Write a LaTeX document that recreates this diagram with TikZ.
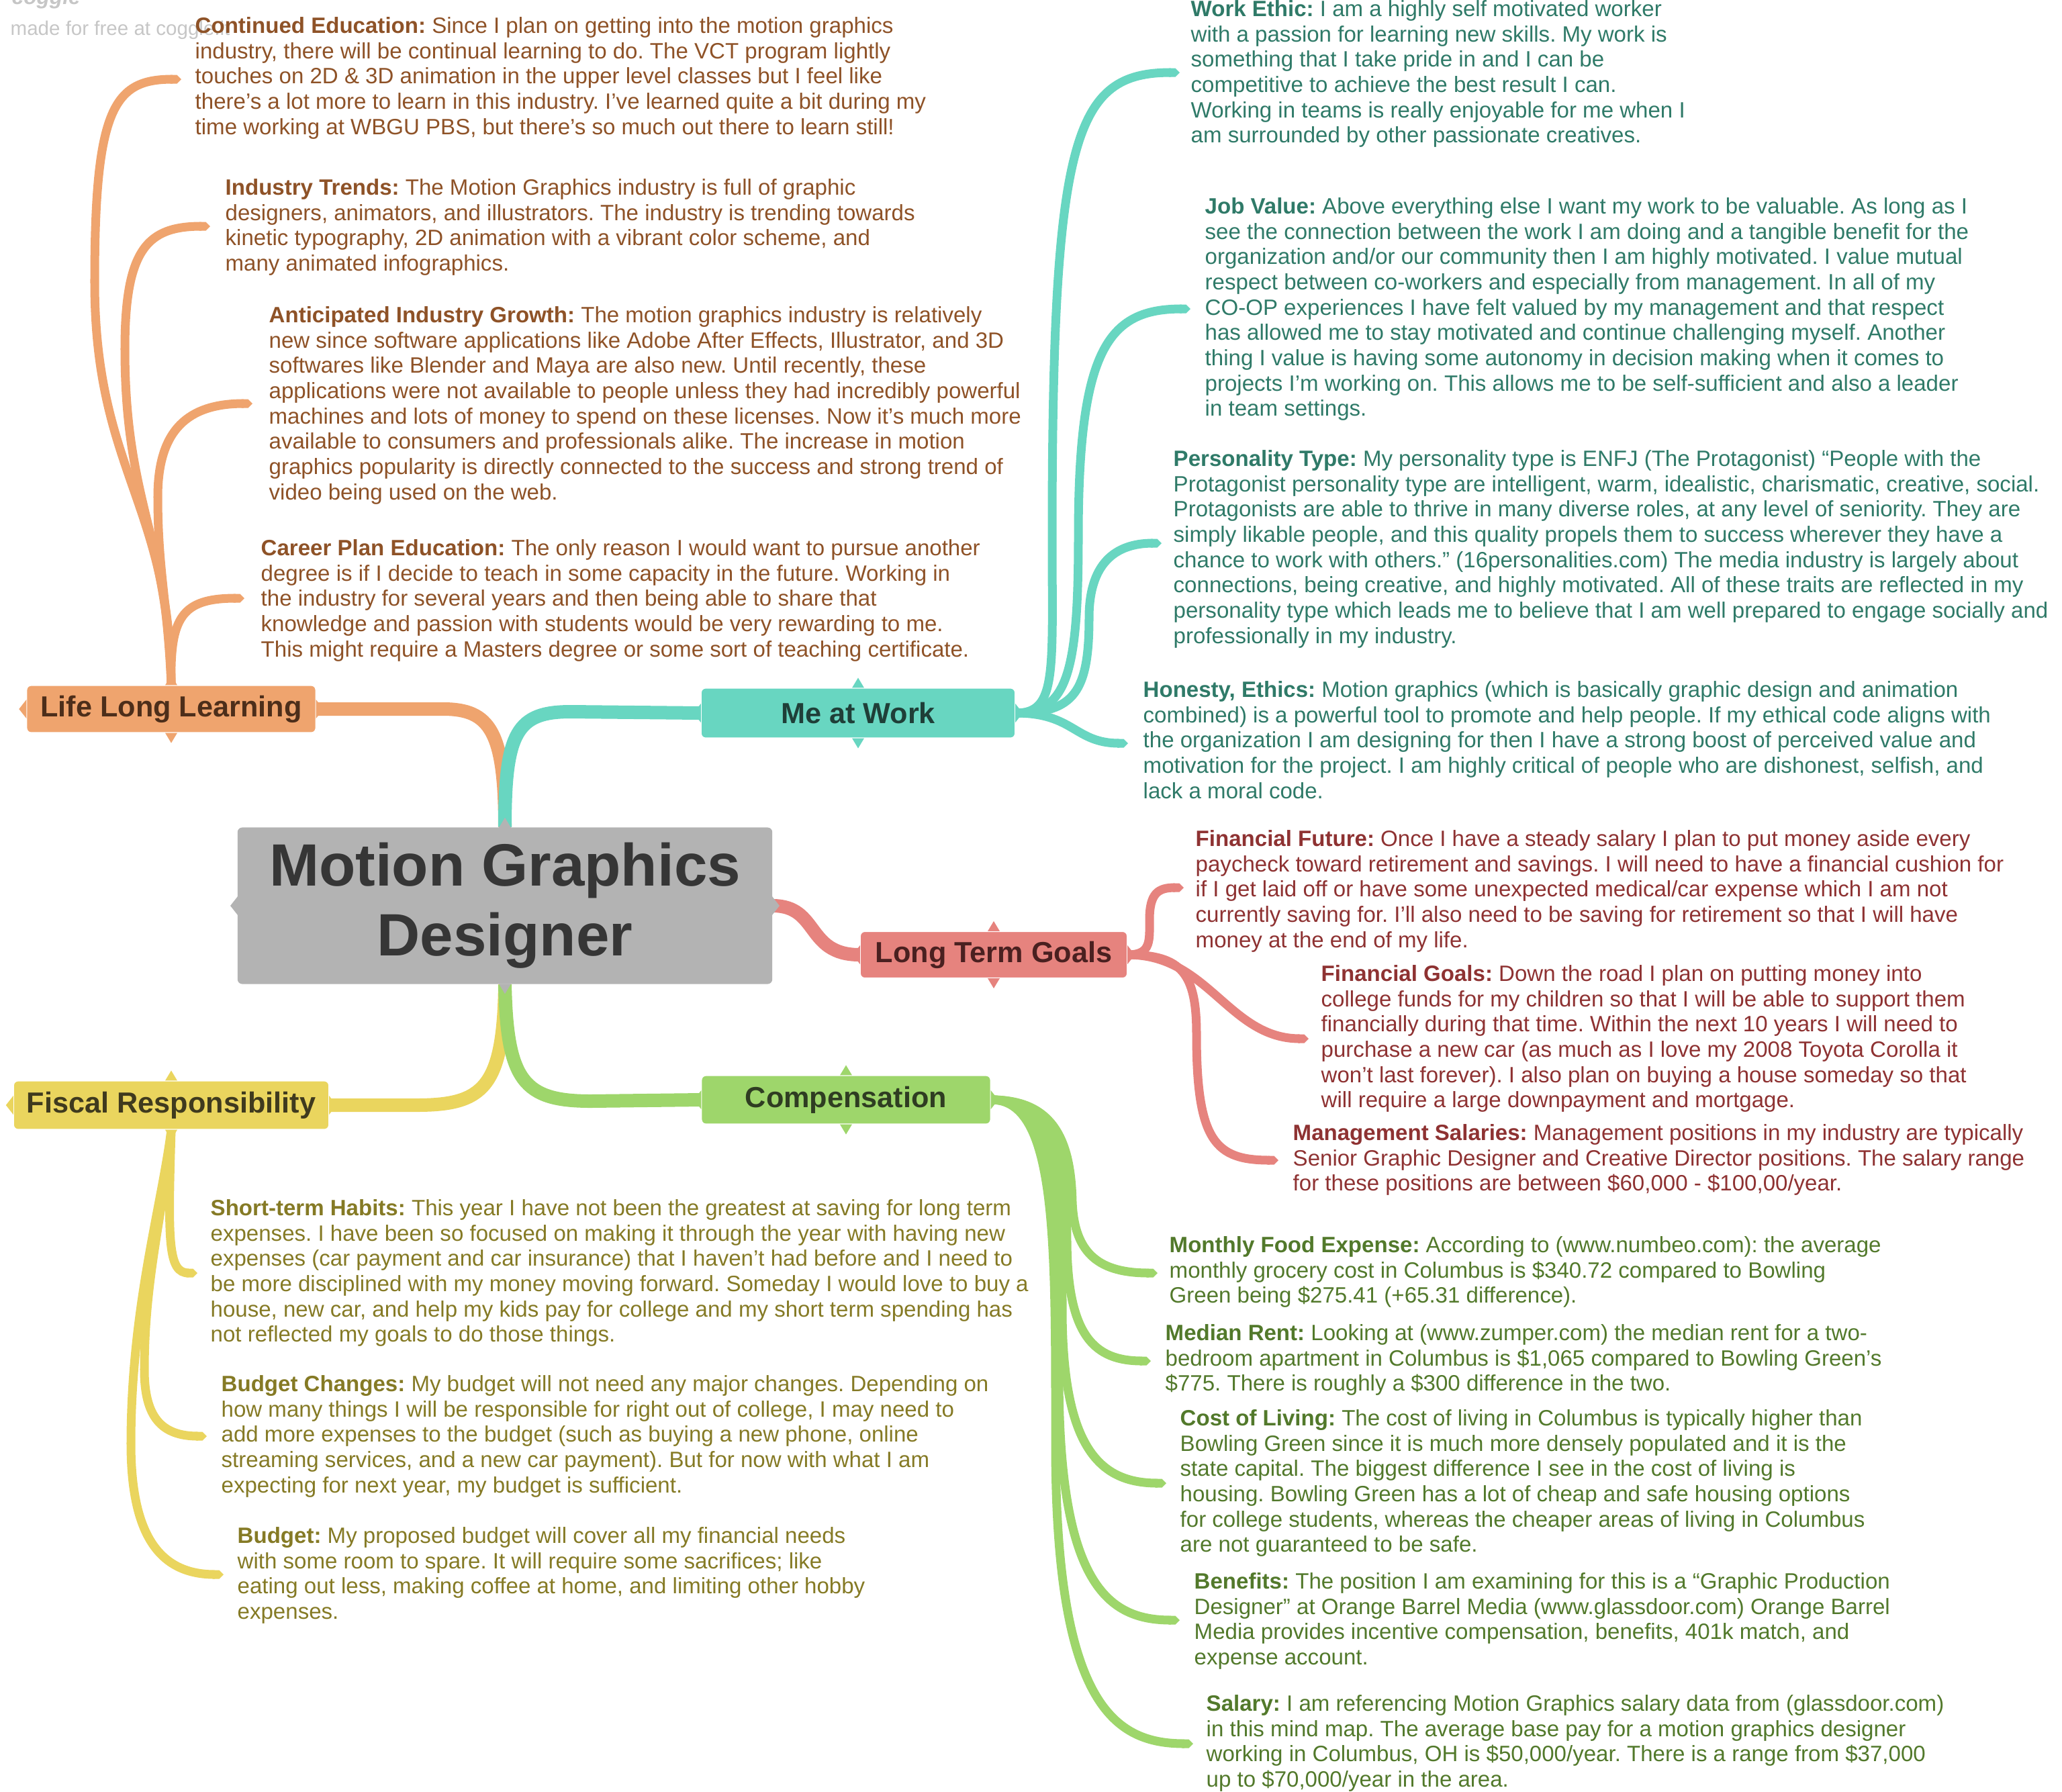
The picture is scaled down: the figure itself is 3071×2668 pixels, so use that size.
\documentclass[tikz,border=0pt]{standalone}
\usepackage{fontspec}
\setmainfont{Liberation Sans}
\usetikzlibrary{arrows.meta, positioning, calc}
\frenchspacing

\definecolor{hubfill}{HTML}{B3B3B3}
\definecolor{hubtext}{HTML}{363636}
\definecolor{learnfill}{HTML}{EFA46E}
\definecolor{learntext}{HTML}{8E5227}
\definecolor{learnlabel}{HTML}{4D2E1A}
\definecolor{workfill}{HTML}{68D6C1}
\definecolor{worktext}{HTML}{2F7A68}
\definecolor{worklabel}{HTML}{1F3F38}
\definecolor{goalfill}{HTML}{E6837E}
\definecolor{goaltext}{HTML}{8E3232}
\definecolor{goallabel}{HTML}{4A2020}
\definecolor{compfill}{HTML}{9ED66B}
\definecolor{comptext}{HTML}{52792B}
\definecolor{complabel}{HTML}{2F3D22}
\definecolor{fiscalfill}{HTML}{EAD55E}
\definecolor{fiscaltext}{HTML}{857A25}
\definecolor{fiscallabel}{HTML}{3F3A1E}

\pgfdeclarelayer{bg}
\pgfsetlayers{bg,main}

\tikzset{
  hub/.style={
    rectangle,
    rounded corners=2pt,
    fill=hubfill,
    text=hubtext,
    minimum width=7.96cm,
    minimum height=2.33cm,
    align=center,
    font=\fontsize{25.3}{29.5}\selectfont\bfseries,
  },
  branch/.style={
    rectangle,
    rounded corners=2pt,
    draw=white,
    line width=0.6pt,
    inner sep=0pt,
    font=\fontsize{12.3}{14}\selectfont\bfseries,
  },
  note/.style={
    anchor=north west,
    align=left,
    inner sep=0pt,
    font=\fontsize{9.4}{10.7}\selectfont,
  },
  trunk/.style={
    line width=0.2cm
  },
  twig/.style={
    line width=0.13cm,
    -{Triangle Cap[]}
  }
}

% small triangles on the four sides of a box
\newcommand{\ears}[2]{%
  \fill[#2] ($(#1.north)+(-9,1)$) -- ($(#1.north)+(0,-14)$) -- ($(#1.north)+(9,1)$) -- cycle;
  \fill[#2] ($(#1.south)+(-9,-1)$) -- ($(#1.south)+(0,14)$) -- ($(#1.south)+(9,-1)$) -- cycle;
  \fill[#2] ($(#1.west)+(1,-14)$) -- ($(#1.west)+(-10,0)$) -- ($(#1.west)+(1,14)$) -- cycle;
  \fill[#2] ($(#1.east)+(-1,-14)$) -- ($(#1.east)+(10,0)$) -- ($(#1.east)+(-1,14)$) -- cycle;
}

\begin{document}
\begin{tikzpicture}[x=0.01cm, y=-0.01cm]

\useasboundingbox (0,0) rectangle (3071,2668);

% --- Watermark ---
\node[anchor=base west, inner sep=0pt, text=gray!45, font=\fontsize{9}{10}\selectfont\bfseries\itshape] (logo) at (17,6) {coggle};
\node[anchor=west, inner sep=0pt, text=gray!45, font=\fontsize{8.4}{10}\selectfont] (madefor) at (15,45) {made for free at coggle.it};

% --- Centre ---
\node[hub] (hub) at (752,1349) {Motion Graphics\\Designer};

% --- Branches ---
\node[branch, fill=learnfill, text=learnlabel, minimum width=4.31cm, minimum height=0.71cm] (lll) at (255,1056) {Life Long Learning};
\node[branch, fill=workfill, text=worklabel, minimum width=4.68cm, minimum height=0.75cm] (work) at (1278,1062) {Me at Work};
\node[branch, fill=goalfill, text=goallabel, minimum width=3.98cm, minimum height=0.70cm] (goals) at (1480,1422) {Long Term Goals};
\node[branch, fill=compfill, text=complabel, minimum width=4.31cm, minimum height=0.73cm] (comp) at (1260,1638) {Compensation};
\node[branch, fill=fiscalfill, text=fiscallabel, minimum width=4.70cm, minimum height=0.73cm] (fiscal) at (255,1646) {Fiscal Responsibility};

\ears{hub}{hubfill}
\ears{lll}{learnfill}
\ears{work}{workfill}
\ears{goals}{goalfill}
\ears{comp}{compfill}
\ears{fiscal}{fiscalfill}

% --- Life Long Learning notes ---
\node[note, text=learntext] (ce) at (290,25) {\textbf{Continued Education:} Since I plan on getting into the motion graphics\\
industry, there will be continual learning to do. The VCT program lightly\\
touches on 2D \& 3D animation in the upper level classes but I feel like\\
there’s a lot more to learn in this industry. I've learned quite a bit during my\\
time working at WBGU PBS, but there's so much out there to learn still!};
\node[note, text=learntext] (trends) at (335,266) {\textbf{Industry Trends:} The Motion Graphics industry is full of graphic\\
designers, animators, and illustrators. The industry is trending towards\\
kinetic typography, 2D animation with a vibrant color scheme, and\\
many animated infographics.};
\node[note, text=learntext] (growth) at (400,456) {\textbf{Anticipated Industry Growth:} The motion graphics industry is relatively\\
new since software applications like Adobe After Effects, Illustrator, and 3D\\
softwares like Blender and Maya are also new. Until recently, these\\
applications were not available to people unless they had incredibly powerful\\
machines and lots of money to spend on these licenses. Now it’s much more\\
available to consumers and professionals alike. The increase in motion\\
graphics popularity is directly connected to the success and strong trend of\\
video being used on the web.};
\node[note, text=learntext] (career) at (388,803) {\textbf{Career Plan Education:} The only reason I would want to pursue another\\
degree is if I decide to teach in some capacity in the future. Working in\\
the industry for several years and then being able to share that\\
knowledge and passion with students would be very rewarding to me.\\
This might require a Masters degree or some sort of teaching certificate.};

% --- Me at Work notes ---
\node[note, text=worktext] (ethic) at (1773,0) {\textbf{Work Ethic:} I am a highly self motivated worker\\
with a passion for learning new skills. My work is\\
something that I take pride in and I can be\\
competitive to achieve the best result I can.\\
Working in teams is really enjoyable for me when I\\
am surrounded by other passionate creatives.};
\node[note, text=worktext] (value) at (1794,294) {\textbf{Job Value:} Above everything else I want my work to be valuable. As long as I\\
see the connection between the work I am doing and a tangible benefit for the\\
organization and/or our community then I am highly motivated. I value mutual\\
respect between co-workers and especially from management. In all of my\\
CO-OP experiences I have felt valued by my management and that respect\\
has allowed me to stay motivated and continue challenging myself. Another\\
thing I value is having some autonomy in decision making when it comes to\\
projects I’m working on. This allows me to be self-sufficient and also a leader\\
in team settings.};
\node[note, text=worktext] (ptype) at (1747,670) {\textbf{Personality Type:} My personality type is ENFJ (The Protagonist) “People with the\\
Protagonist personality type are intelligent, warm, idealistic, charismatic, creative, social.\\
Protagonists are able to thrive in many diverse roles, at any level of seniority. They are\\
simply likable people, and this quality propels them to success wherever they have a\\
chance to work with others.” (16personalities.com) The media industry is largely about\\
connections, being creative, and highly motivated. All of these traits are reflected in my\\
personality type which leads me to believe that I am well prepared to engage socially and\\
professionally in my industry.};
\node[note, text=worktext] (honesty) at (1702,1014) {\textbf{Honesty, Ethics:} Motion graphics (which is basically graphic design and animation\\
combined) is a powerful tool to promote and help people. If my ethical code aligns with\\
the organization I am designing for then I have a strong boost of perceived value and\\
motivation for the project. I am highly critical of people who are dishonest, selfish, and\\
lack a moral code.};

% --- Long Term Goals notes ---
\node[note, text=goaltext] (future) at (1780,1236) {\textbf{Financial Future:} Once I have a steady salary I plan to put money aside every\\
paycheck toward retirement and savings. I will need to have a financial cushion for\\
if I get laid off or have some unexpected medical/car expense which I am not\\
currently saving for. I’ll also need to be saving for retirement so that I will have\\
money at the end of my life.};
\node[note, text=goaltext] (fgoals) at (1967,1437) {\textbf{Financial Goals:} Down the road I plan on putting money into\\
college funds for my children so that I will be able to support them\\
financially during that time. Within the next 10 years I will need to\\
purchase a new car (as much as I love my 2008 Toyota Corolla it\\
won’t last forever). I also plan on buying a house someday so that\\
will require a large downpayment and mortgage.};
\node[note, text=goaltext] (mgmt) at (1925,1674) {\textbf{Management Salaries:} Management positions in my industry are typically\\
Senior Graphic Designer and Creative Director positions. The salary range\\
for these positions are between \$60,000 - \$100,00/year.};

% --- Compensation notes ---
\node[note, text=comptext] (food) at (1741,1841) {\textbf{Monthly Food Expense:} According to (www.numbeo.com): the average\\
monthly grocery cost in Columbus is \$340.72 compared to Bowling\\
Green being \$275.41 (+65.31 difference).};
\node[note, text=comptext] (rent) at (1735,1972) {\textbf{Median Rent:} Looking at (www.zumper.com) the median rent for a two-\\
bedroom apartment in Columbus is \$1,065 compared to Bowling Green’s\\
\$775. There is roughly a \$300 difference in the two.};
\node[note, text=comptext] (living) at (1757,2099) {\textbf{Cost of Living:} The cost of living in Columbus is typically higher than\\
Bowling Green since it is much more densely populated and it is the\\
state capital. The biggest difference I see in the cost of living is\\
housing. Bowling Green has a lot of cheap and safe housing options\\
for college students, whereas the cheaper areas of living in Columbus\\
are not guaranteed to be safe.};
\node[note, text=comptext] (benefits) at (1778,2342) {\textbf{Benefits:} The position I am examining for this is a “Graphic Production\\
Designer” at Orange Barrel Media (www.glassdoor.com) Orange Barrel\\
Media provides incentive compensation, benefits, 401k match, and\\
expense account.};
\node[note, text=comptext] (salary) at (1796,2524) {\textbf{Salary:} I am referencing Motion Graphics salary data from (glassdoor.com)\\
in this mind map. The average base pay for a motion graphics designer\\
working in Columbus, OH is \$50,000/year. There is a range from \$37,000\\
up to \$70,000/year in the area.};

% --- Fiscal Responsibility notes ---
\node[note, text=fiscaltext] (habits) at (313,1786) {\textbf{Short-term Habits:} This year I have not been the greatest at saving for long term\\
expenses. I have been so focused on making it through the year with having new\\
expenses (car payment and car insurance) that I haven’t had before and I need to\\
be more disciplined with my money moving forward. Someday I would love to buy a\\
house, new car, and help my kids pay for college and my short term spending has\\
not reflected my goals to do those things.};
\node[note, text=fiscaltext] (changes) at (329,2048) {\textbf{Budget Changes:} My budget will not need any major changes. Depending on\\
how many things I will be responsible for right out of college, I may need to\\
add more expenses to the budget (such as buying a new phone, online\\
streaming services, and a new car payment). But for now with what I am\\
expecting for next year, my budget is sufficient.};
\node[note, text=fiscaltext] (budget) at (353,2274) {\textbf{Budget:} My proposed budget will cover all my financial needs\\
with some room to spare. It will require some sacrifices; like\\
eating out less, making coffee at home, and limiting other hobby\\
expenses.};

% --- Connector ends ---
\coordinate (ce-in) at (270,118);
\coordinate (trends-in) at (313,337);
\coordinate (growth-in) at (376,601);
\coordinate (career-in) at (364,891);
\coordinate (ethic-in) at (1757,108);
\coordinate (value-in) at (1773,460);
\coordinate (ptype-in) at (1730,809);
\coordinate (honesty-in) at (1680,1107);
\coordinate (future-in) at (1763,1322);
\coordinate (fgoals-in) at (1949,1547);
\coordinate (mgmt-in) at (1904,1728);
\coordinate (food-in) at (1724,1896);
\coordinate (rent-in) at (1714,2027);
\coordinate (living-in) at (1737,2209);
\coordinate (benefits-in) at (1757,2413);
\coordinate (salary-in) at (1777,2597);
\coordinate (habits-in) at (294,1896);
\coordinate (changes-in) at (308,2139);
\coordinate (budget-in) at (333,2345);

\begin{pgfonlayer}{bg}
% --- Main branches ---
\draw[trunk, learnfill] (hub.north) .. controls (752,1090) and (730,1056) .. (660,1056) -- (lll.east);
\draw[trunk, workfill] (hub.north) .. controls (752,1090) and (770,1060) .. (850,1060) -- (work.west);
\draw[trunk, goalfill] (hub.east) .. controls (1220,1349) and (1200,1422) .. (goals.west);
\draw[trunk, fiscalfill] (hub.south) .. controls (750,1620) and (720,1646) .. (620,1646) -- (fiscal.east);
\draw[trunk, compfill] (hub.south) .. controls (755,1610) and (780,1640) .. (880,1640) -- (comp.west);

% --- Life Long Learning twigs ---
\draw[twig, learnfill] (lll.north) .. controls (253,750) and (141,700) .. (141,420) .. controls (141,160) and (170,118) .. (ce-in);
\draw[twig, learnfill] (lll.north) .. controls (250,800) and (186,750) .. (186,520) .. controls (186,370) and (220,337) .. (trends-in);
\draw[twig, learnfill] (lll.north) .. controls (250,900) and (235,850) .. (235,740) .. controls (235,640) and (280,601) .. (growth-in);
\draw[twig, learnfill] (lll.north) .. controls (253,920) and (270,891) .. (career-in);

% --- Me at Work twigs ---
\draw[twig, workfill] (work.east) .. controls (1575,1062) and (1567,1000) .. (1567,800) .. controls (1567,200) and (1600,108) .. (ethic-in);
\draw[twig, workfill] (work.east) .. controls (1590,1062) and (1606,1000) .. (1606,800) .. controls (1606,520) and (1650,460) .. (value-in);
\draw[twig, workfill] (work.east) .. controls (1600,1062) and (1622,1030) .. (1622,920) .. controls (1622,840) and (1660,809) .. (ptype-in);
\draw[twig, workfill] (work.east) .. controls (1600,1062) and (1600,1107) .. (honesty-in);

% --- Long Term Goals twigs ---
\draw[twig, goalfill] (goals.east) .. controls (1715,1422) and (1712,1400) .. (1712,1370) .. controls (1712,1330) and (1725,1322) .. (future-in);
\draw[twig, goalfill] (goals.east) .. controls (1800,1422) and (1830,1547) .. (fgoals-in);
\draw[twig, goalfill] (goals.east) .. controls (1760,1422) and (1782,1450) .. (1782,1540) .. controls (1782,1700) and (1810,1728) .. (mgmt-in);

% --- Compensation twigs ---
\draw[twig, compfill] (comp.east) .. controls (1570,1638) and (1595,1700) .. (1597,1790) .. controls (1600,1870) and (1640,1896) .. (food-in);
\draw[twig, compfill] (comp.east) .. controls (1575,1638) and (1588,1720) .. (1589,1850) .. controls (1590,1990) and (1630,2027) .. (rent-in);
\draw[twig, compfill] (comp.east) .. controls (1575,1638) and (1582,1750) .. (1582,1950) .. controls (1582,2160) and (1640,2209) .. (living-in);
\draw[twig, compfill] (comp.east) .. controls (1575,1638) and (1577,1800) .. (1577,2050) .. controls (1577,2360) and (1650,2413) .. (benefits-in);
\draw[twig, compfill] (comp.east) .. controls (1575,1638) and (1572,1850) .. (1572,2150) .. controls (1572,2540) and (1660,2597) .. (salary-in);

% --- Fiscal Responsibility twigs ---
\draw[twig, fiscalfill] (fiscal.south) .. controls (250,1850) and (250,1896) .. (habits-in);
\draw[twig, fiscalfill] (fiscal.south) .. controls (245,1800) and (215,1900) .. (215,2040) .. controls (215,2110) and (240,2139) .. (changes-in);
\draw[twig, fiscalfill] (fiscal.south) .. controls (240,1800) and (195,1950) .. (195,2150) .. controls (195,2290) and (240,2345) .. (budget-in);
\end{pgfonlayer}

\end{tikzpicture}
\end{document}
